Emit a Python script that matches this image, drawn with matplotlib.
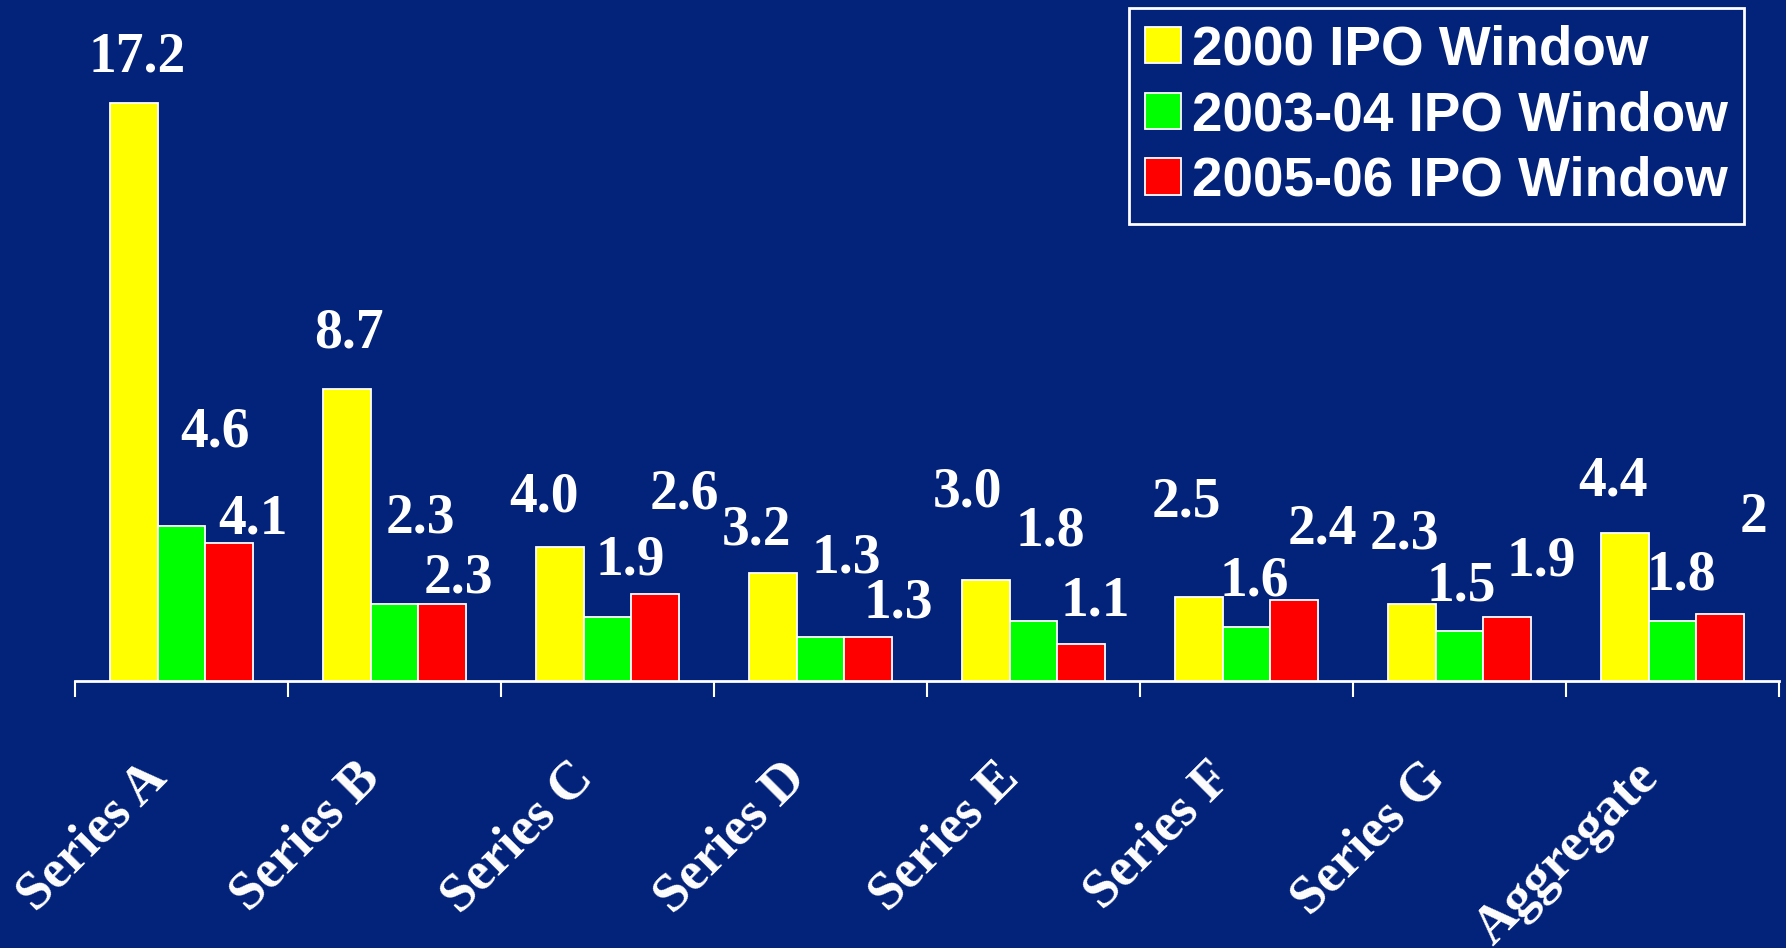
import numpy as np
import matplotlib
matplotlib.use("Agg")
import matplotlib.pyplot as plt
import matplotlib.transforms as mtransforms

# data
categories = ['Series A', 'Series B', 'Series C', 'Series D',
              'Series E', 'Series F', 'Series G', 'Aggregate']
series_names = ['2000 IPO Window', '2003-04 IPO Window', '2005-06 IPO Window']
ipo_2000 = [17.2, 8.7, 4.0, 3.2, 3.0, 2.5, 2.3, 4.4]
ipo_2003 = [4.6, 2.3, 1.9, 1.3, 1.8, 1.6, 1.5, 1.8]
ipo_2005 = [4.1, 2.3, 2.6, 1.3, 1.1, 2.4, 1.9, 2.0]
labels_2000 = ['17.2', '8.7', '4.0', '3.2', '3.0', '2.5', '2.3', '4.4']
labels_2003 = ['4.6', '2.3', '1.9', '1.3', '1.8', '1.6', '1.5', '1.8']
labels_2005 = ['4.1', '2.3', '2.6', '1.3', '1.1', '2.4', '1.9', '2']

# where the value labels sit relative to their bars (they were dragged around in the original)
dx_2000 = [0.015, 0.009, -0.071, -0.076, -0.087, -0.055, -0.034, -0.055]
dy_2000 = [1.37, 1.64, 1.45, 1.27, 2.62, 2.82, 2.07, 1.53]
dx_2003 = [0.159, 0.121, 0.105, 0.121, 0.078, 0.035, 0.009, 0.041]
dy_2003 = [2.79, 2.54, 1.69, 2.36, 2.64, 1.35, 1.31, 1.35]
dx_2005 = [0.11, 0.073, 0.137, 0.142, 0.067, 0.131, 0.159, 0.153]
dy_2005 = [0.71, 0.75, 2.96, 1.0, 1.27, 2.11, 1.66, 2.85]

bg = '#03227A'
colors = ['#FFFF00', '#00FF00', '#FF0000']
serif = ['Liberation Serif', 'DejaVu Serif']
sans = ['Liberation Sans', 'DejaVu Sans']

fig = plt.figure(figsize=(17.86, 9.48), dpi=100, facecolor=bg)
ax = fig.add_axes([75/1786, 267/948, 1704/1786, 681/948])
ax.set_facecolor(bg)

x = np.arange(len(categories))
w = 0.225
values = [ipo_2000, ipo_2003, ipo_2005]
labels = [labels_2000, labels_2003, labels_2005]
dxs = [dx_2000, dx_2003, dx_2005]
dys = [dy_2000, dy_2003, dy_2005]

for k in range(3):
    pos = x + (k - 1)*w
    ax.bar(pos, values[k], width=w, color=colors[k], edgecolor='white',
           linewidth=1.3, label=series_names[k], zorder=3)
    for i in range(len(categories)):
        ax.text(pos[i] + dxs[k][i], values[k][i] + dys[k][i], labels[k][i],
                ha='center', va='center', fontsize=40, fontweight='bold',
                family=serif, color='white', clip_on=False)

ax.set_xlim(-0.5, len(categories) - 0.5)
ax.set_ylim(0, 20.27)

# ticks on the category boundaries, labels drawn by hand
ax.set_xticks(np.arange(-0.5, len(categories), 1))
ax.tick_params(axis='x', which='major', length=11.5, width=1.5, color='white',
               direction='out', labelbottom=False)
ax.set_yticks([])
for s in ['left', 'top', 'right']:
    ax.spines[s].set_visible(False)
ax.spines['bottom'].set_color('white')
ax.spines['bottom'].set_linewidth(2)

trans = mtransforms.blended_transform_factory(ax.transData, ax.transAxes)
for i, c in enumerate(categories):
    ax.text(i - 0.06, -0.145, c, transform=trans, rotation=45,
            rotation_mode='anchor', ha='right', va='baseline', fontsize=39,
            fontweight='bold', family=serif, color='white', clip_on=False)

leg = ax.legend(loc='upper right', bbox_to_anchor=(1744/1786, 1 - 8/948),
                bbox_transform=fig.transFigure, borderaxespad=0,
                prop={'family': sans, 'weight': 'bold', 'size': 39.5},
                handlelength=0.65, handleheight=0.65, handletextpad=0.2,
                labelspacing=0.25, borderpad=0.3, fancybox=False,
                facecolor=bg, edgecolor='white', framealpha=1)
leg.get_frame().set_linewidth(2)
for t in leg.get_texts():
    t.set_color('white')

fig.savefig('out.png', dpi=100, facecolor=bg)
